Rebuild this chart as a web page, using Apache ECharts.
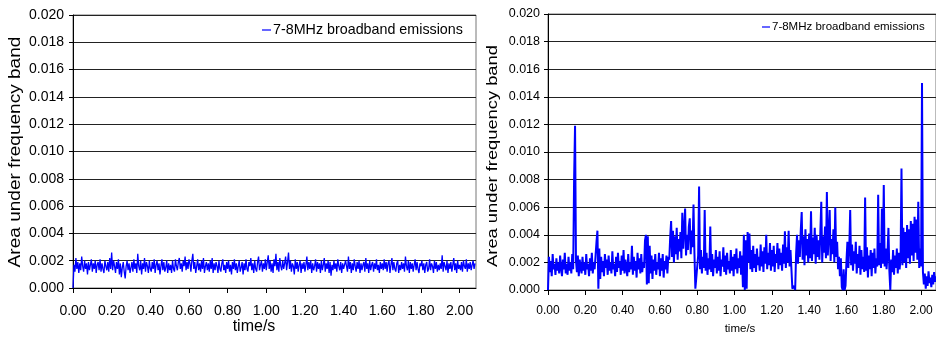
<!DOCTYPE html>
<html><head><meta charset="utf-8">
<style>html,body{margin:0;padding:0;background:#fff}#c{width:936px;height:339px}</style>
<script src="https://cdn.jsdelivr.net/npm/echarts@6.0.0/dist/echarts.min.js"></script>
</head><body><div id="c"></div><script>
// Text
const SERIES_NAME = '7-8MHz broadband emissions';
const X_TITLE = 'time/s';
const Y_TITLE = 'Area under frequency band';
// Tick labels
const xTickLabels = ['0.00','0.20','0.40','0.60','0.80','1.00','1.20','1.40','1.60','1.80','2.00'];
const yTickLabels = ['0.000','0.002','0.004','0.006','0.008','0.010','0.012','0.014','0.016','0.018','0.020'];
// Values are in thousandths of the y unit (1.6 means 0.0016)
const leftStep = 0.005;   // seconds between samples
const leftValues = [0,
1.7,1.2,2.2,1.4,1.9,1.1,1.8,1.3,2.3,1.6,1.2,2.0,1.4,1.8,1.0,1.9,1.3,1.7,2.1,1.2,
1.8,1.4,2.0,1.1,1.7,1.9,1.3,2.1,1.2,1.8,1.4,1.1,2.0,1.6,1.3,1.9,1.2,2.2,1.4,2.6,
1.3,2.0,1.6,1.1,1.9,1.4,2.1,1.0,1.8,0.8,1.5,1.9,1.2,0.7,1.6,2.0,1.3,1.8,1.1,1.5,
1.9,1.2,2.1,1.4,1.8,1.1,2.5,1.6,1.3,2.0,1.0,1.8,1.4,2.2,1.2,1.9,1.6,1.1,2.0,1.4,
1.2,1.9,1.4,2.1,1.1,1.7,2.0,1.3,1.8,1.0,1.6,2.1,1.3,1.9,1.2,1.5,2.0,1.1,1.8,1.3,
1.7,1.1,2.0,1.4,1.2,2.1,1.6,1.3,1.9,2.2,1.4,1.8,1.2,2.0,1.6,2.3,1.3,1.9,1.4,2.1,
1.8,1.2,2.0,2.5,1.4,1.9,1.1,1.6,2.1,1.3,1.8,1.2,2.0,1.4,2.2,1.1,1.6,1.9,1.3,1.8,
1.2,2.0,1.4,2.2,1.1,1.8,1.3,1.9,1.6,1.1,2.0,1.4,1.2,1.8,2.1,1.3,1.7,1.1,1.9,1.4,
2.0,1.2,1.7,1.0,1.9,1.4,2.1,1.3,1.8,1.1,1.6,2.0,1.2,1.5,1.9,1.0,1.8,1.3,2.1,1.4,
1.2,1.9,1.6,2.2,1.3,1.8,1.1,2.0,1.4,1.2,1.9,2.3,1.3,1.7,2.0,1.2,1.8,1.4,2.1,1.3,
1.9,2.4,1.4,2.0,1.2,1.8,1.1,2.1,1.6,2.5,1.3,1.9,1.2,2.2,1.6,1.3,2.0,1.4,1.8,2.3,
1.3,1.9,2.6,1.4,2.0,1.2,1.8,1.6,1.0,2.1,1.4,1.9,1.2,1.7,2.0,1.1,1.8,1.4,1.9,1.2,
1.7,2.3,1.3,1.9,1.4,2.0,1.1,1.8,1.3,1.6,2.1,1.2,1.9,1.4,1.8,1.1,2.0,1.3,1.7,2.2,
1.2,1.8,1.4,2.0,1.1,1.9,0.9,1.7,1.3,2.0,1.4,1.8,1.2,2.1,1.6,1.3,1.9,1.1,1.8,1.4,
1.3,2.0,1.6,1.2,2.3,1.4,1.9,1.1,1.8,1.3,2.1,1.6,1.2,1.9,1.4,2.0,1.1,1.8,1.3,1.7,
1.9,1.2,2.2,1.4,1.8,1.1,2.0,1.3,1.7,1.9,1.2,1.8,1.4,2.1,1.3,1.7,1.1,1.9,1.4,1.8,
1.3,2.1,1.4,1.9,1.2,1.8,2.0,1.1,1.7,2.2,1.3,1.9,1.4,1.2,1.8,2.0,1.1,1.7,1.3,1.9,
1.4,1.8,1.2,2.3,1.6,1.3,2.0,1.1,1.9,1.4,1.8,1.2,1.7,2.1,1.3,1.9,1.4,1.1,1.8,1.6,
2.0,1.3,1.8,1.1,1.7,1.9,1.2,1.4,2.1,1.3,1.8,1.6,1.1,2.0,1.4,1.9,1.2,1.7,1.3,1.8,
1.4,2.4,1.2,1.9,1.6,1.3,2.0,1.1,1.8,1.4,1.9,1.2,1.7,2.2,1.3,1.8,1.1,2.0,1.4,1.7,
1.3,1.9,1.2,2.0,1.6,1.4,2.1,1.2,1.8,1.4,1.9,1.3,1.7,2.0,1.4,1.8];
const rightStep = 0.005; // seconds between samples
const rightValues = [
0,2.4,1.3,2.1,1.0,2.6,1.5,1.9,1.1,2.3,1.4,2.0,1.2,2.5,1.6,1.0,2.2,1.5,2.7,1.2,
1.9,1.1,2.4,1.4,2.0,1.2,2.6,1.5,8.1,11.9,2.1,1.3,2.5,1.0,2.2,1.6,1.2,2.4,1.4,2.0,
1.1,2.6,1.5,1.9,1.0,2.3,1.4,2.7,1.2,2.0,1.5,2.5,3.5,4.3,0.1,3.0,0.8,2.4,1.3,2.1,
1.0,2.6,1.6,2.2,1.1,2.5,1.4,2.0,1.2,2.8,1.5,1.9,1.0,2.4,1.3,2.7,1.6,2.1,1.1,2.5,
1.4,2.9,1.2,2.2,1.6,1.0,2.6,1.3,2.0,1.5,3.2,1.1,2.4,1.4,2.1,0.9,2.7,1.5,2.3,1.2,
2.6,1.3,2.0,1.6,3.6,4.0,0.4,3.9,0.5,3.2,1.2,2.5,0.8,2.2,1.4,2.6,1.1,2.0,1.5,2.7,
1.0,2.3,1.4,2.6,0.9,2.1,1.5,2.5,1.2,2.4,2.2,3.8,5.0,2.4,4.3,2.0,3.9,2.6,4.5,2.2,
3.7,2.8,4.2,2.3,5.6,3.0,4.4,5.9,2.5,4.0,2.9,4.6,5.2,2.6,4.3,3.1,6.2,2.7,0.1,0.0,
0.2,2.5,7.5,1.5,2.9,1.2,2.4,1.6,5.8,1.4,2.7,1.1,2.3,1.5,4.6,1.3,2.6,1.0,2.2,1.6,
2.9,1.2,2.4,1.4,2.8,1.0,2.2,1.7,3.1,1.3,2.5,1.1,2.7,1.5,2.1,1.2,2.9,1.4,2.4,1.0,
2.6,1.5,3.0,1.2,2.3,1.6,2.8,1.1,2.5,0.2,4.0,0.0,3.6,0.1,4.2,2.0,4.1,1.5,2.9,1.3,
3.2,1.6,2.6,1.3,3.0,1.8,2.4,1.4,3.3,1.7,2.8,1.3,3.1,1.9,4.0,1.5,2.7,1.8,3.4,1.4,
2.9,1.7,3.2,1.3,2.6,2.0,3.4,1.5,3.0,1.8,2.7,1.4,3.3,1.9,4.25,1.6,3.1,2.0,4.3,1.7,
2.9,1.5,0.1,0.0,0.3,0.0,2.6,4.0,1.9,3.6,2.4,4.3,5.65,2.2,3.9,1.8,4.4,2.5,3.7,2.0,
4.1,2.3,5.7,2.1,3.8,2.6,4.5,1.9,4.0,2.4,3.6,2.2,4.2,6.4,2.0,3.9,2.7,4.6,2.3,7.1,
2.5,4.0,5.8,2.1,3.7,2.6,4.4,2.0,6.0,2.4,3.5,1.5,2.4,1.0,2.3,0.2,0.0,1.5,0.0,0.3,
2.1,3.5,1.6,3.0,5.8,1.8,3.3,1.4,2.8,1.9,3.5,1.2,2.6,1.6,3.2,1.1,2.9,1.5,2.4,1.3,
6.7,1.4,3.1,0.9,2.5,1.5,2.9,1.0,2.7,1.6,3.0,1.2,2.3,1.7,6.9,1.8,3.4,1.6,5.9,1.9,
7.6,1.7,3.0,1.5,2.6,4.5,1.4,0.0,2.2,1.3,2.9,1.1,2.5,1.6,3.0,1.2,2.7,1.5,2.3,8.8,
1.8,4.5,2.0,4.2,1.6,4.7,2.3,4.4,1.9,5.0,2.5,4.8,2.1,5.3,2.7,5.1,2.2,6.4,1.6,3.0,
1.7,15.0,1.3,0.4,1.2,0.1,1.0,0.3,1.35,0.5,0.9,0.2,1.1,0.4,1.3,0.6,1.0];

const FONT = '"Liberation Sans", Arial, sans-serif';
const xTickValues = xTickLabels.map(Number);
const leftData = leftValues.map((v, i) => [i * leftStep, v]);
const rightData = rightValues.map((v, i) => [i * rightStep, v]);

function xAxis(gridIndex, max, fs, margin) {
  return {
    type: 'value', gridIndex, min: 0, max,
    axisLine: {show: true, lineStyle: {color: '#000', width: 1}},
    axisTick: {show: true, inside: false, length: 5, lineStyle: {color: '#000'}, customValues: xTickValues},
    axisLabel: {fontFamily: FONT, fontSize: fs, color: '#000', margin, customValues: xTickValues,
      formatter: v => { const k = xTickValues.findIndex(t => Math.abs(t - v) < 1e-6); return k >= 0 ? xTickLabels[k] : ''; }},
    splitLine: {show: false}
  };
}
function yAxis(gridIndex, fs, margin) {
  return {
    type: 'value', gridIndex, min: 0, max: 20, interval: 2,
    axisLine: {show: true, lineStyle: {color: '#000', width: 1}},
    axisTick: {show: true, inside: false, length: 4, lineStyle: {color: '#000'}},
    axisLabel: {fontFamily: FONT, fontSize: fs, color: '#000', margin,
      formatter: v => yTickLabels[Math.round(v / 2)] ?? ''},
    splitLine: {show: true, lineStyle: {color: '#222', width: 1}}
  };
}
function title(text, x, y, fs, rot, sx) {
  return {type: 'text', x, y, rotation: rot, scaleX: sx, silent: true,
    style: {text, fontFamily: FONT, fontSize: fs, fill: '#000',
      align: 'center', verticalAlign: 'middle', textAlign: 'center', textVerticalAlign: 'middle'}};
}

const chart = echarts.init(document.getElementById('c'), null, {renderer: 'canvas'});
chart.setOption({
  animation: false,
  backgroundColor: '#fff',
  grid: [
    {left: 73, top: 15, width: 403, height: 273, show: true, borderColor: '#777', borderWidth: 1},
    {left: 548, top: 14, width: 388, height: 276, show: true, borderColor: '#777', borderWidth: 1}
  ],
  xAxis: [xAxis(0, 2.085, 14, 16), xAxis(1, 2.08, 12, 15)],
  yAxis: [yAxis(0, 14, 9), yAxis(1, 12.5, 8)],
  legend: [
    {left: 262, top: 23, itemWidth: 9, itemHeight: 1.2, icon: 'rect', padding: 0, data: [SERIES_NAME],
     itemStyle: {color: '#0000ff'},
     textStyle: {fontFamily: FONT, fontSize: 14.3, color: '#000', padding: [0, 0, 0, -3]}},
    {left: 762, top: 21, itemWidth: 8, itemHeight: 1.2, icon: 'rect', padding: 0, data: [SERIES_NAME],
     itemStyle: {color: '#0000ff'},
     textStyle: {fontFamily: FONT, fontSize: 11.5, color: '#000', padding: [0, 0, 0, -3]}}
  ],
  graphic: [
    title(Y_TITLE, 16, 152, 16, Math.PI / 2, 1.19),
    title(Y_TITLE, 493, 156, 15, Math.PI / 2, 1.22),
    title(X_TITLE, 254, 327, 16, 0, 1),
    title(X_TITLE, 740, 329, 11.5, 0, 1)
  ],
  series: [
    {name: SERIES_NAME, type: 'line', xAxisIndex: 0, yAxisIndex: 0, data: leftData,
     showSymbol: false, symbol: 'none', lineStyle: {color: '#0000ff', width: 1.3}, itemStyle: {color: '#0000ff'}},
    {name: SERIES_NAME, type: 'line', xAxisIndex: 1, yAxisIndex: 1, data: rightData,
     showSymbol: false, symbol: 'none', lineStyle: {color: '#0000ff', width: 2}, itemStyle: {color: '#0000ff'}}
  ]
});
</script></body></html>
